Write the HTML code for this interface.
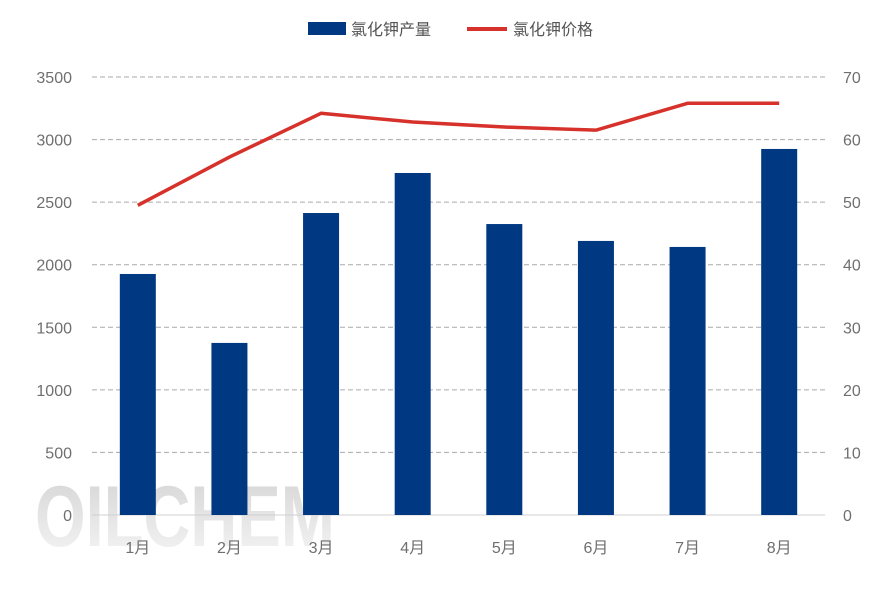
<!DOCTYPE html>
<html><head><meta charset="utf-8"><style>
body{margin:0;background:#fff;}
svg text{font-family:"Liberation Sans","Noto Sans CJK SC",sans-serif;}
</style></head><body>
<svg width="886" height="591" viewBox="0 0 886 591" xmlns="http://www.w3.org/2000/svg">
<defs><linearGradient id="wm" x1="0" y1="0" x2="0" y2="1"><stop offset="0" stop-color="#d4d4d4"/><stop offset="1" stop-color="#f6f6f6"/></linearGradient></defs>
<text x="35" y="546" font-size="86" font-weight="bold" fill="url(#wm)" textLength="300" lengthAdjust="spacingAndGlyphs">OILCHEM</text>
<g id="grid"></g><g id="bars"></g><g id="line"></g><g id="labels"></g>
<g>
<rect x="308" y="22" width="38" height="13" fill="#003882"/>
<text x="351" y="35" font-size="16" fill="#555">氯化钾产量</text>
<line x1="467" y1="29" x2="507" y2="29" stroke="#d6312a" stroke-width="4"/>
<text x="513" y="35" font-size="16" fill="#555">氯化钾价格</text>
</g>
</svg>
<script>
const categories=["1月","2月","3月","4月","5月","6月","7月","8月"];
const production=[1926,1375,2413,2733,2325,2190,2142,2925];
const price=[49.5,57.2,64.2,62.8,62,61.5,65.8,65.8];
const leftTicks=[0,500,1000,1500,2000,2500,3000,3500];
const rightTicks=[0,10,20,30,40,50,60,70];
const NS="http://www.w3.org/2000/svg";
const x0=92,x1=825,y0=515,y1=77;
const bw=(x1-x0)/categories.length;
const xc=i=>x0+bw*(i+0.5);
const yl=v=>y0-(v/3500)*(y0-y1);
const yr=v=>y0-(v/70)*(y0-y1);
function mk(t,a,p){const e=document.createElementNS(NS,t);for(const k in a)e.setAttribute(k,a[k]);p.appendChild(e);return e;}
const g=document.getElementById('grid'),b=document.getElementById('bars'),l=document.getElementById('line'),lb=document.getElementById('labels');
leftTicks.forEach((v,i)=>{
 const y=yl(v);
 const ln=mk('line',{x1:x0,x2:x1,y1:y,y2:y,stroke:v===0?'#d0d0d0':'#aaa','stroke-width':1,'stroke-dasharray':v===0?'none':'5,3'},g);
 
 
 const t=mk('text',{x:72,y:y+6,'font-size':16,fill:'#6f6f6f','text-anchor':'end'},lb);t.textContent=v;
 
 
 const t2=mk('text',{x:843,y:y+6,'font-size':16,fill:'#6f6f6f'},lb);t2.textContent=rightTicks[i];
 
 
});
categories.forEach((c,i)=>{
 const r=mk('rect',{x:xc(i)-18,y:yl(production[i]),width:36,height:y0-yl(production[i]),fill:'#003882'},b);
 
 
 const t=mk('text',{x:xc(i),y:553,'font-size':16,fill:'#6f6f6f','text-anchor':'middle'},lb);t.textContent=c;
 
 
});
const pl=mk('polyline',{points:price.map((v,i)=>xc(i)+','+yr(v)).join(' '),fill:'none',stroke:'#d6312a','stroke-width':3.5,'stroke-linejoin':'round'},l);


</script>
</body></html>
